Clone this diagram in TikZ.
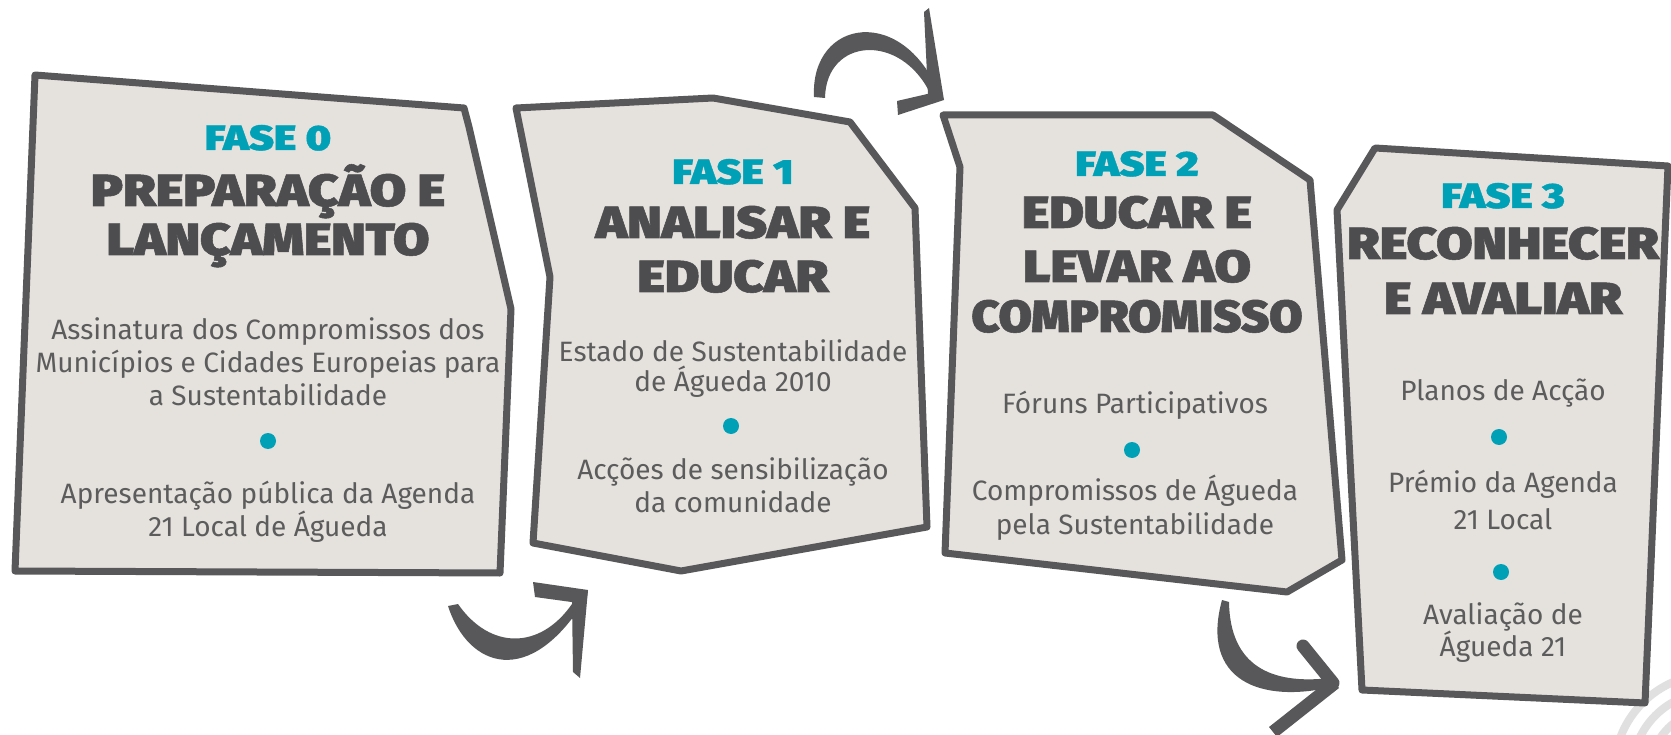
\documentclass[tikz,border=0pt]{standalone}
\usepackage{fontspec}
\setmainfont{Fira Sans}
\newfontfamily\titlefont{Fira Sans Black}[FakeStretch=1.17, FakeBold=1.2]
\newfontfamily\titlefontn{Fira Sans Black}[FakeStretch=1.07, FakeBold=1.2]
\newfontfamily\fasefont{Fira Sans Black}[FakeStretch=1.22, FakeBold=1]
\definecolor{boxfill}{RGB}{229,226,222}
\definecolor{edge}{RGB}{88,88,90}
\definecolor{fasecol}{RGB}{0,161,182}
\definecolor{titlecol}{RGB}{77,77,79}
\definecolor{bodycol}{RGB}{92,92,92}
\begin{document}
\begin{tikzpicture}[x=1pt,y=-1pt,
  box/.style={draw=edge, line width=7pt, fill=boxfill, line join=round},
  fase/.style={anchor=base, inner sep=0pt, text=fasecol, font=\fasefont\fontsize{35}{35}\selectfont},
  ttl/.style={anchor=base, inner sep=0pt, text=titlecol, font=\titlefont\fontsize{45}{45}\selectfont},
  ttln/.style={ttl, font=\titlefontn\fontsize{45}{45}\selectfont},
  body/.style={anchor=base, inner sep=0pt, text=bodycol, font=\fontsize{28}{28}\selectfont},
  bullet/.style={circle, fill=fasecol, minimum size=16pt, inner sep=0pt},
  arrowpart/.style={fill=edge},
  faint/.style={draw=black!12, line width=8pt}
]
\useasboundingbox (0,0) rectangle (1671,735);
\clip (0,0) rectangle (1671,735);
\fill[white] (0,0) rectangle (1671,735);

% faint decoration bottom right
\draw[faint] (1712,772) circle[radius=62pt];
\draw[faint] (1712,772) circle[radius=80pt];
\draw[faint] (1712,772) circle[radius=98pt];

% boxes
\draw[box] (35,75) -- (464,108) -- (469,127) -- (511,309) -- (500,573) -- (15,571) -- cycle;
\draw[box] (516,108) -- (713,98) -- (850,122) -- (915,208) -- (927,527) -- (681,571) -- (533,543) -- (550,277) -- cycle;
\draw[box] (943,115) -- (1213,115) -- (1310,180) -- (1342,560) -- (1287,592) -- (945,553) -- (960,167) -- cycle;
\draw[box] (1375,148) -- (1668,166) -- (1645,703) -- (1362,690) -- (1337,210) -- cycle;

% box 0 text
\node[fase] (f0) at (268,150) {FASE 0};
\node[ttl] (t0a) at (268,206) {PREPARAÇÃO E};
\node[ttl] (t0b) at (268,255) {LANÇAMENTO};
\node[body] (b0a) at (268,340) {Assinatura dos Compromissos dos};
\node[body] (b0b) at (268,373) {Municípios e Cidades Europeias para};
\node[body] (b0c) at (268,405) {a Sustentabilidade};
\node[bullet] (d0) at (268,441) {};
\node[body] (b0d) at (268,503) {Apresentação pública da Agenda};
\node[body] (b0e) at (268,536) {21 Local de Águeda};

% box 1 text
\node[fase] (f1) at (733,184) {FASE 1};
\node[ttl] (t1a) at (733,238) {ANALISAR E};
\node[ttl] (t1b) at (733,292) {EDUCAR};
\node[body] (b1a) at (733,362) {Estado de Sustentabilidade};
\node[body] (b1b) at (733,391) {de Águeda 2010};
\node[bullet] (d1) at (731,426) {};
\node[body] (b1c) at (733,479) {Acções de sensibilização};
\node[body] (b1d) at (733,512) {da comunidade};

% box 2 text
\node[fase] (f2) at (1137,176) {FASE 2};
\node[ttl] (t2a) at (1137,228) {EDUCAR E};
\node[ttl] (t2b) at (1137,282) {LEVAR AO};
\node[ttln] (t2c) at (1137,332) {COMPROMISSO};
\node[body] (b2a) at (1135,413) {Fóruns Participativos};
\node[bullet] (d2) at (1132,450) {};
\node[body] (b2b) at (1135,500) {Compromissos de Águeda};
\node[body] (b2c) at (1135,534) {pela Sustentabilidade};

% box 3 text
\node[fase] (f3) at (1503,208) {FASE 3};
\node[ttl] (t3a) at (1503,259) {RECONHECER};
\node[ttl] (t3b) at (1503,314) {E AVALIAR};
\node[body] (b3a) at (1503,400) {Planos de Acção};
\node[bullet] (d3a) at (1499,437) {};
\node[body] (b3b) at (1503,492) {Prémio da Agenda};
\node[body] (b3c) at (1503,529) {21 Local};
\node[bullet] (d3b) at (1501,572) {};
\node[body] (b3d) at (1503,624) {Avaliação de};
\node[body] (b3e) at (1503,656) {Águeda 21};

% arrow A (box 0 -> box 1)
\fill[arrowpart] (448,606) .. controls (468,668) and (530,690) .. (586,598) -- (572,604) .. controls (540,650) and (490,650) .. (458,604) -- cycle;
\fill[arrowpart] (533,582) -- (588,590) -- (586,604) -- (535,597) -- cycle;
\fill[arrowpart] (588,590) -- (580,678) -- (573,672) -- (572,602) -- cycle;

% arrow B (box 1 -> box 2)
\fill[arrowpart] (814,97) .. controls (810,18) and (905,3) .. (941,98) -- (930,93) .. controls (900,32) and (826,38) .. (825,98) -- cycle;
\fill[arrowpart] (924,12) -- (929,8) -- (944,100) -- (928,95) -- cycle;
\fill[arrowpart] (897,101) -- (936,92) -- (944,100) -- (898,115) -- cycle;

% arrow C (box 2 -> box 3)
\fill[arrowpart] (1222,600) .. controls (1200,680) and (1260,705) .. (1336,686) -- (1330,678) .. controls (1270,685) and (1230,665) .. (1229,602) -- cycle;
\draw[edge, line width=13pt, line cap=round] (1303,646) -- (1333,683);
\fill[arrowpart] (1331,678) -- (1339,688) -- (1277,737) -- (1269,727) -- cycle;
\end{tikzpicture}
\end{document}
